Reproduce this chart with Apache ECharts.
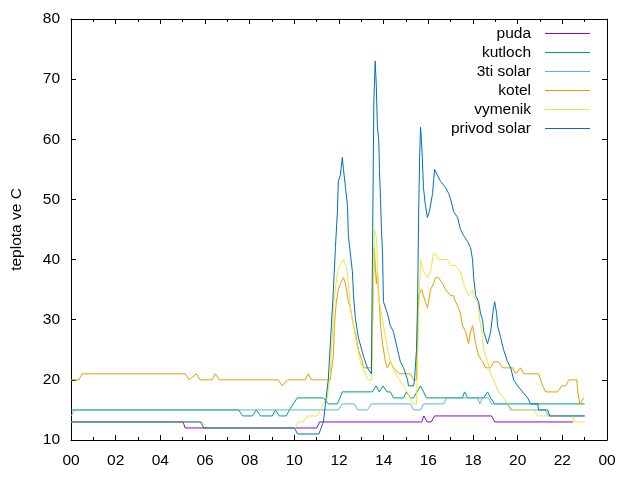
<!DOCTYPE html>
<html>
<head>
<meta charset="utf-8">
<script src="https://cdn.jsdelivr.net/npm/echarts@6/dist/echarts.min.js"></script>
<style>
  html, body { margin: 0; padding: 0; background: #fff; }
  #chart { width: 640px; height: 480px; }
</style>
</head>
<body>
<div id="chart"></div>
<script>
// [hour, temperature]
var puda = [[0,13],[5.02,13],[5.11,12],[11.0,12],[11.13,13],[15.7,13],[15.8,14],[15.95,13],[16.13,13],[16.28,14],
    [18.83,14],[18.97,13],[22.47,13]];
var kutloch = [[0,15],[7.5,15],[7.69,14],[8.12,14],[8.3,15],[8.48,14],[9.01,14],[9.15,15],[9.33,14],[9.64,14],
    [9.78,15],[10.13,17],[11.3,17],[11.52,16],[11.93,16],[12.15,18],[13.5,18],[13.66,19],[13.8,18],[13.97,19],
    [14.15,18],[14.3,18],[14.44,17],[14.89,17],[15.02,18],[15.2,17],[15.34,17],[15.65,19],[15.92,17],[17.53,17],
    [17.62,18],[17.76,17],[18.48,17],[18.65,18],[18.79,17],[18.97,16],[23.0,16]];
var solar3 = [[0,14],[0.17,15],[11.97,15],[12.15,16],[12.69,16],[12.83,15],[13.27,15],[13.45,16],[15.2,16],
    [15.34,15],[15.65,15],[15.78,16],[16.68,16],[16.82,17],[18.21,17],[18.3,16],[18.43,17],[18.7,17],[18.83,16],
    [19.55,16],[19.69,15],[21.21,15],[21.39,14],[23.0,14]];
var kotel = [[0,20],[0.36,20],[0.49,21],[5.11,21],[5.29,20],[5.61,21],[5.78,20],[6.32,20],[6.46,21],[6.64,20],
    [9.28,20],[9.46,19],[9.69,20],[10.49,20],[10.63,21],[10.76,20],[11.61,20],[11.75,24],[11.79,29],[11.88,33],
    [11.97,35],[12.06,36],[12.2,37],[12.29,36],[12.38,34],[12.42,33],[12.51,32],[12.65,29],[12.78,27],[12.87,25],
    [13.05,23],[13.09,22],[13.45,22],[13.54,35],[13.58,42],[13.63,42],[13.67,36],[13.72,38],[13.77,35],[13.86,29],
    [13.95,26],[14.08,23],[14.17,22],[14.3,23],[14.44,22],[14.7,21],[15.2,21],[15.34,20],[15.47,20],[15.52,29],
    [15.56,34],[15.7,35],[15.78,34],[15.96,32],[16.1,35],[16.23,36],[16.32,37],[16.46,37],[16.64,36],[16.77,35],
    [17.0,34],[17.13,34],[17.22,33],[17.35,32],[17.44,31],[17.53,29],[17.67,28],[17.8,26],[17.89,28],[17.98,29],
    [18.03,28],[18.12,26],[18.25,24],[18.43,23],[18.57,22],[18.65,22],[18.79,22],[18.92,23],[19.15,23],[19.33,22],
    [19.78,22],[19.91,21],[20.13,22],[20.27,21],[20.94,21],[21.12,19],[21.26,18],[21.79,18],[21.97,19],[22.15,19],
    [22.29,20],[22.65,20],[22.69,18],[22.78,16],[22.96,17]];
var vymenik = [[0,13],[5.87,13],[6.1,12],[10.04,12],[10.18,13],[10.4,13],[10.58,14],[11.03,14],[11.17,15],[11.3,16],
    [11.48,17],[11.61,21],[11.7,27],[11.75,32],[11.84,35],[11.93,38],[12.02,39],[12.2,40],[12.29,39],[12.38,38],
    [12.42,36],[12.51,32],[12.74,27],[12.96,23],[13.18,21],[13.27,20],[13.47,20],[13.58,45],[13.66,44],[13.7,42],
    [13.72,38],[13.76,34],[13.95,30],[14.08,27],[14.3,23],[14.53,21],[14.89,19],[15.2,17],[15.29,16],[15.47,16],
    [15.56,30],[15.65,40],[15.78,38],[15.96,37],[16.1,38],[16.23,41],[16.32,41],[16.46,40],[16.86,40],[17.0,39],
    [17.22,39],[17.44,38],[17.58,36],[17.8,34],[17.98,35],[18.03,34],[18.21,33],[18.3,30],[18.39,28],[18.48,25],
    [18.65,23],[18.79,21],[18.92,20],[19.15,18],[19.37,17],[19.55,16],[19.78,15],[20.7,15],[20.9,14],[22.47,14],
    [22.52,13],[23.0,13]];
var privod = [[0,13],[5.8,13],[5.95,12],[10.0,12],[10.15,11],[11.1,11],[11.3,13],[11.52,20],[11.75,35],[11.84,42],
    [11.93,48],[11.97,53],[12.06,54],[12.15,57],[12.2,55],[12.29,52],[12.38,49],[12.42,44],[12.51,41],[12.6,38],
    [12.65,34],[12.74,30],[12.87,27],[13.09,24],[13.27,22],[13.45,21],[13.56,66],[13.62,73],[13.67,69],[13.72,62],
    [13.78,60],[13.81,55],[13.86,50],[13.9,45],[13.95,41],[13.99,33],[14.17,31],[14.3,29],[14.44,28],[14.62,25],
    [14.75,23],[14.89,22],[15.07,20],[15.11,19],[15.34,19],[15.38,20],[15.47,25],[15.52,33],[15.56,46],[15.61,57],
    [15.65,62],[15.69,60],[15.73,57],[15.78,52],[15.87,49],[15.96,47],[16.05,48],[16.19,51],[16.28,55],[16.41,54],
    [16.55,53],[16.77,52],[16.91,51],[17.0,50],[17.13,48],[17.31,47],[17.44,45],[17.58,44],[17.76,43],[17.89,42],
    [17.98,40],[18.03,37],[18.12,34],[18.25,33],[18.34,31],[18.43,30],[18.48,28],[18.65,26],[18.79,28],[18.92,32],
    [18.97,33],[19.06,31],[19.1,29],[19.24,27],[19.37,25],[19.55,23],[19.69,22],[19.82,20],[20.0,19],[20.22,18],
    [20.45,17],[20.58,16],[20.9,16],[20.94,15],[21.35,15],[21.43,14],[23.0,14]];

var names = ['puda', 'kutloch', '3ti solar', 'kotel', 'vymenik', 'privod solar'];
var colors = ['#9400d3', '#009e73', '#56b4e9', '#e69f00', '#f0e442', '#0072b2'];
var seriesData = [puda, kutloch, solar3, kotel, vymenik, privod];

var font = 'Liberation Sans, Arial, sans-serif';
var chart = echarts.init(document.getElementById('chart'));

function xAxisDef(pos, labels) {
    return {
        type: 'value',
        position: pos,
        min: 0,
        max: 24,
        interval: 2,
        axisLine: { show: true, onZero: false, lineStyle: { color: '#000', width: 1 } },
        axisTick: { show: true, inside: true, length: 5, lineStyle: { color: '#000' } },
        minorTick: { show: true, splitNumber: 2, length: 3, lineStyle: { color: '#000' } },
        splitLine: { show: false },
        axisLabel: {
            show: labels,
            margin: 13,
            color: '#000',
            fontFamily: font,
            fontSize: 15.5,
            formatter: function (v) { return String(v % 24).padStart(2, '0'); }
        }
    };
}
function yAxisDef(pos, labels) {
    return {
        type: 'value',
        position: pos,
        min: 10,
        max: 80,
        interval: 10,
        name: labels ? 'teplota ve C' : '',
        nameLocation: 'middle',
        nameGap: 46,
        nameTextStyle: { color: '#000', fontFamily: font, fontSize: 15.5 },
        axisLine: { show: true, onZero: false, lineStyle: { color: '#000', width: 1 } },
        axisTick: { show: true, inside: true, length: 5, lineStyle: { color: '#000' } },
        splitLine: { show: false },
        axisLabel: { show: labels, margin: 11, color: '#000', fontFamily: font, fontSize: 15.5 }
    };
}

var option = {
    animation: false,
    backgroundColor: '#fff',
    color: colors,
    grid: { left: 71, right: 33, top: 19, bottom: 40 },
    legend: {
        orient: 'vertical',
        right: 50,
        top: 24,
        padding: 0,
        itemGap: 0,
        align: 'right',
        icon: 'rect',
        itemWidth: 45,
        itemHeight: 1,
        data: names,
        textStyle: { color: '#000', fontFamily: font, fontSize: 15.5, lineHeight: 19, padding: [0, 9, 0, 0] }
    },
    xAxis: [xAxisDef('bottom', true), xAxisDef('top', false)],
    yAxis: [yAxisDef('left', true), yAxisDef('right', false)],
    series: seriesData.map(function (d, i) {
        return {
            name: names[i],
            type: 'line',
            data: d,
            showSymbol: false,
            symbol: 'none',
            itemStyle: { color: colors[i] },
            lineStyle: { color: colors[i], width: 1 }
        };
    })
};
chart.setOption(option);
</script>
</body>
</html>
